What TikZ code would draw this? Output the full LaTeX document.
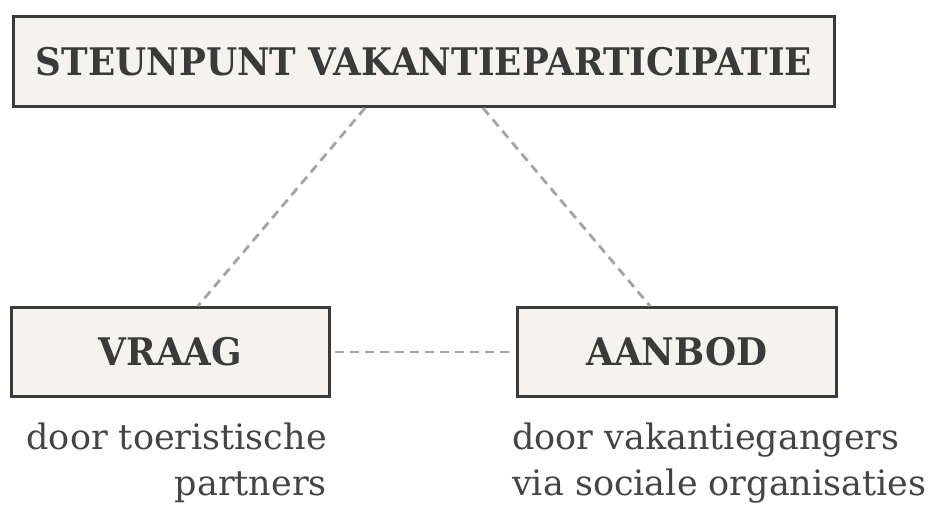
\documentclass[tikz,border=0pt]{standalone}
\usepackage{fontspec}
\setmainfont{DejaVu Serif}
\newfontfamily\titlefont[FakeStretch=0.94]{DejaVu Serif Bold}
\usetikzlibrary{positioning}

\definecolor{boxfill}{HTML}{F4F3ED}
\definecolor{boxline}{HTML}{3A3A3A}
\definecolor{subtext}{HTML}{444444}
\definecolor{dashgray}{HTML}{A3A3A3}

\begin{document}
\begin{tikzpicture}[x=1pt, y=-1pt,
    box/.style={draw=boxline, line width=3pt, fill=boxfill, rectangle, inner sep=0pt,
                text=boxline, font=\titlefont\fontsize{38}{40}\selectfont},
    sub/.style={inner sep=0pt, text=subtext, font=\fontsize{35}{46}\selectfont},
    link/.style={draw=dashgray, line width=2.8pt, dash pattern=on 9pt off 6pt}]

    \useasboundingbox (0,0) rectangle (933,509);

    % Nodes
    \node [box, minimum width=821pt, minimum height=90pt] (steunpunt) at (424,61.5) {STEUNPUNT VAKANTIEPARTICIPATIE};
    \node [box, minimum width=318pt, minimum height=89pt] (vraag) at (170.5,352) {VRAAG};
    \node [box, minimum width=319pt, minimum height=89pt] (aanbod) at (677,352) {AANBOD};
    \node [sub, align=right, anchor=north east] (vraag_tekst) at ([shift={(-4,25)}]vraag.south east) {door toeristische\\partners};
    \node [sub, align=left, anchor=north west] (aanbod_tekst) at ([shift={(-4,25)}]aanbod.south west) {door vakantiegangers\\via sociale organisaties};

    % Lines
    \draw [link] ([xshift=-59pt]steunpunt.south) -- ([xshift=27.5pt]vraag.north);
    \draw [link] ([xshift=59pt]steunpunt.south) -- ([xshift=-27pt]aanbod.north);
    \draw [link, shorten <=4pt, shorten >=4pt] (vraag.east) -- (aanbod.west);
\end{tikzpicture}
\end{document}
